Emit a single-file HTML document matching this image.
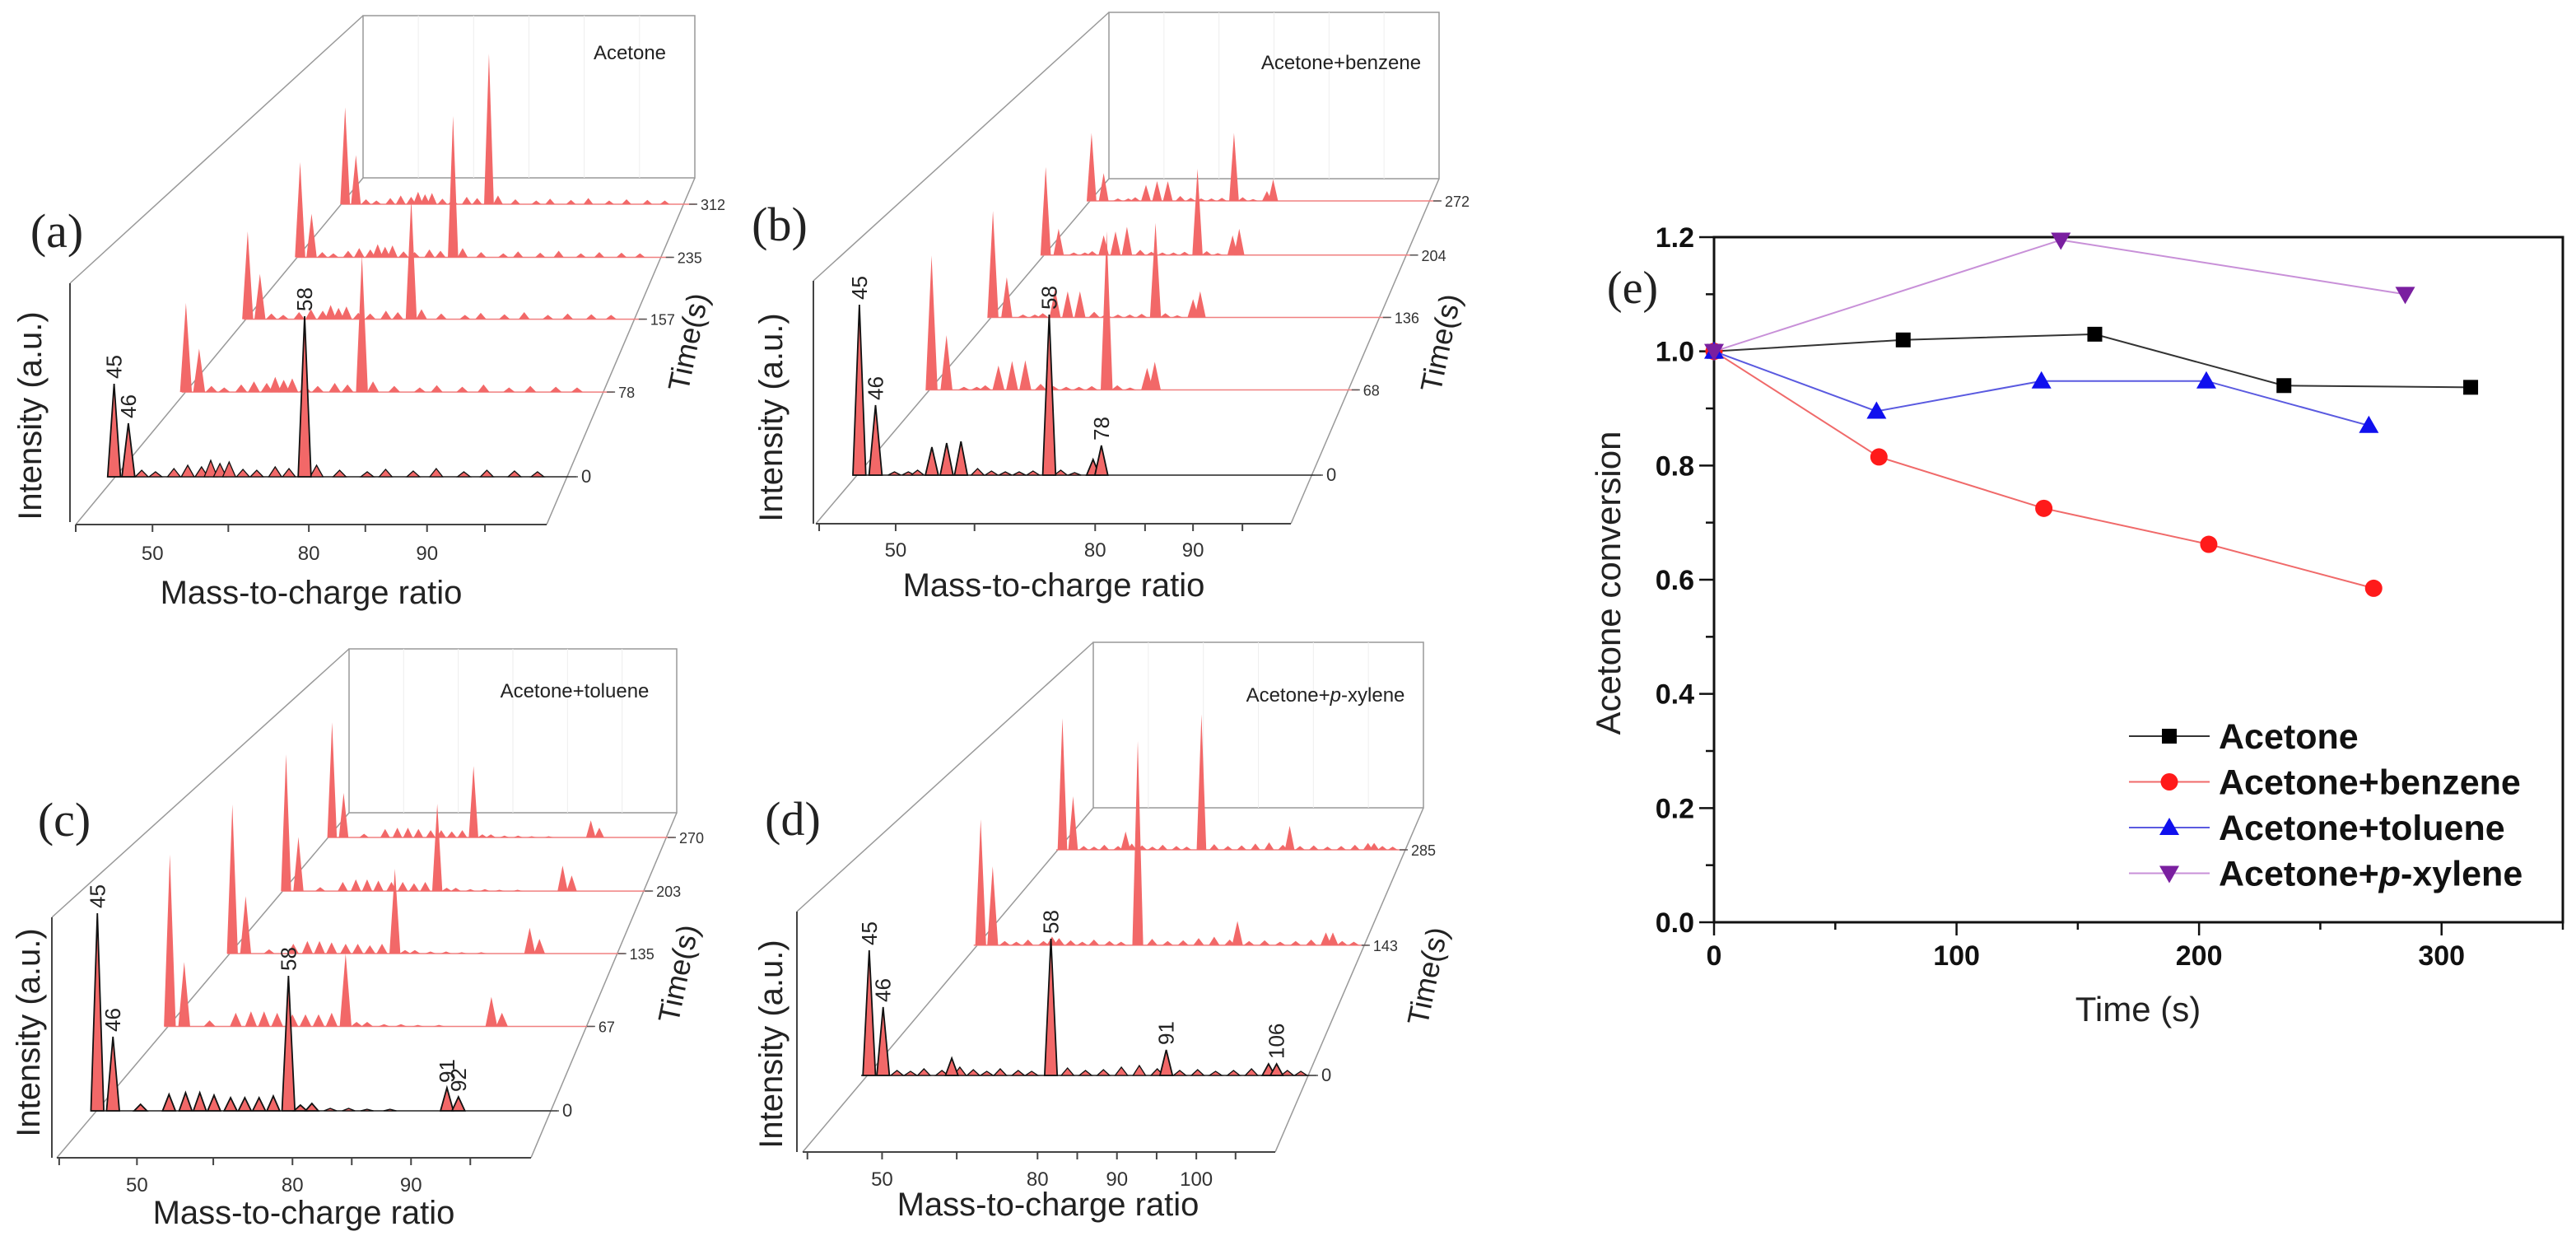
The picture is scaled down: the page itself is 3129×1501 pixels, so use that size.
<!DOCTYPE html>
<html><head><meta charset="utf-8">
<style>
html,body{margin:0;padding:0;background:#fff;}
svg{display:block;font-family:"Liberation Sans",sans-serif;}
</style></head>
<body>
<svg id="fig" width="3129" height="1501" viewBox="0 0 3129 1501" xmlns="http://www.w3.org/2000/svg"></svg>
<script>
// ---------- Panel (a) data ----------
const aTimes = [0, 78, 157, 235, 312];
const aPeakPos = [1.0, 4.1, 42.4];
const aPeakLabels = ['45', '46', '58'];
const aHeights = [[113, 65, 195], [117, 57, 180], [124, 64, 171], [144, 66, 214], [156, 79, 242]];
const aMinorPos = [7, 10, 14, 17, 20, 22, 24, 26, 29, 32, 36, 39, 45, 50, 56, 60, 66, 71, 77, 82, 88, 93];
const aMinorH = [8, 6, 10, 14, 12, 20, 16, 18, 9, 8, 12, 10, 14, 8, 6, 9, 7, 10, 6, 8, 7, 6];
const aTickLabels = ['', '50', '', '80', '', '90', ''];
const aTickPos = [0, 16.3, 32.4, 49.5, 61.5, 74.6, 86.9];

// ---------- Panel (b) data ----------
const bTimes = [0, 68, 136, 204, 272];
const bPeakPos = [1.4, 4.9, 17.1, 20.3, 23.4, 42.5, 52, 53.8];
const bPeakLabels = ['45', '46', '', '', '', '58', '', '78'];
const bHeights = [
  [207, 85, 34, 39, 41, 195, 19, 36],
  [177, 72, 32, 38, 39, 209, 29, 37],
  [151, 57, 40, 37, 37, 134, 26, 37],
  [134, 40, 30, 36, 43, 131, 30, 40],
  [110, 45, 26, 32, 32, 110, 16, 35]];
const bMinorPos = [9, 12, 14, 27, 30, 33, 36, 39, 45, 48];
const bMinorH = [4, 4, 6, 8, 5, 4, 4, 5, 6, 3];
const bTickLabels = ['', '50', '', '80', '', '90', ''];
const bTickPos = [0.7, 16.8, 33.4, 58.8, 69.3, 79.4, 89.8];

// ---------- Panel (c) data ----------
const cTimes = [0, 67, 135, 203, 270];
const cPeakPos = [1.3, 4.7, 10.7, 16.9, 20.5, 23.6, 26.7, 30.3, 33.4, 36.5, 39.6, 42.9, 45.5, 48, 77.4, 79.9];
const cPeakLabels = ['45', '46', '', '', '', '', '', '', '', '', '', '58', '', '', '91', '92'];
const cHeights = [
  [240, 90, 8, 20, 22, 22, 19, 16, 16, 16, 18, 164, 7, 9, 28, 17],
  [227, 85, 8, 18, 20, 20, 18, 16, 16, 16, 18, 96, 6, 6, 39, 18],
  [213, 82, 6, 14, 18, 18, 16, 14, 14, 12, 14, 121, 5, 5, 37, 21],
  [210, 83, 6, 14, 18, 18, 16, 14, 14, 12, 14, 134, 5, 5, 39, 24],
  [189, 73, 6, 14, 16, 16, 14, 12, 12, 10, 12, 117, 5, 5, 28, 16]];
const cMinorPos = [52, 56, 60, 65];
const cMinorH = [3, 3, 2, 2];
const cTickLabels = ['', '50', '', '80', '', '90', ''];
const cTickPos = [0.5, 16.9, 33, 49.7, 62.2, 74.7, 87.2];

// ---------- Panel (d) data ----------
const dTimes = [0, 143, 285];
const dPeakPos = [1.8, 4.9, 20.2, 42.3, 68, 90.8, 92.6];
const dPeakLabels = ['45', '46', '', '58', '91', '', '106'];
const dHeights = [
  [152, 83, 21, 166, 31, 14, 14],
  [177, 111, 12, 287, 34, 18, 18],
  [209, 85, 29, 215, 38, 11, 11]];
const dMinorPos = [8, 11, 14, 18, 22, 25, 28, 31, 35, 38, 46, 50, 54, 58, 62, 66, 71, 75, 79, 83, 87, 95, 98];
const dMinorH = [6, 5, 8, 6, 10, 7, 5, 8, 6, 5, 9, 6, 7, 10, 12, 8, 6, 7, 5, 6, 8, 6, 5];
const dTickLabels = ['', '50', '', '80', '', '90', '', '100', ''];
const dTickPos = [1, 16.8, 32.6, 49.7, 58.1, 66.5, 74.9, 83.3, 91.6];

// ---------- Panel (e) data ----------
const eSeriesNames = ['Acetone', 'Acetone+benzene', 'Acetone+toluene', 'Acetone+p-xylene'];
const eAcetoneT = [0, 78, 157, 235, 312];
const eAcetoneV = [1.0, 1.02, 1.03, 0.94, 0.937];
const eBenzeneT = [0, 68, 136, 204, 272];
const eBenzeneV = [1.0, 0.815, 0.725, 0.662, 0.585];
const eTolueneT = [0, 67, 135, 203, 270];
const eTolueneV = [1.0, 0.895, 0.948, 0.948, 0.87];
const eXyleneT = [0, 143, 285];
const eXyleneV = [1.0, 1.195, 1.1];
const eXTicks = [0, 100, 200, 300];
const eYTicks = [0.0, 0.2, 0.4, 0.6, 0.8, 1.0, 1.2];

const NS = 'http://www.w3.org/2000/svg';
const svg = document.getElementById('fig');
function mk(tag, attrs, parent) {
  const el = document.createElementNS(NS, tag);
  for (const k in attrs) el.setAttribute(k, attrs[k]);
  (parent || svg).appendChild(el);
  return el;
}
const RED = '#f26868';

function persp(f) { return f * 1.354 / (1 + 0.354 * f); }

function drawPanel(id, G, times, pos, labels, heights, minorPos, minorH, tickPos, tickLabels, legendText) {
  const g = mk('g', {});
  
  
  const wall = mk('rect', {x: G.wl, y: G.wt, width: G.wr - G.wl, height: G.wb - G.wt, fill: 'none', stroke: '#999', 'stroke-width': 1.5}, g);
  
  
  for (let i = 1; i < 6; i++) {
    const gx = G.wl + (G.wr - G.wl) * i / 6;
    const gl = mk('line', {x1: gx, y1: G.wt, x2: gx, y2: G.wb, stroke: '#eee', 'stroke-width': 1}, g);
    
    
  }
  const edges = [
    [G.ax, G.at, G.wl, G.wt],
    [G.fbl[0], G.fbl[1], G.wl, G.wb],
    [G.fbr[0], G.fbr[1], G.wr, G.wb]];
  edges.forEach(e => {
    const l = mk('line', {x1: e[0], y1: e[1], x2: e[2], y2: e[3], stroke: '#999', 'stroke-width': 1.5}, g);
    
    
  });
  const yAxis = mk('line', {x1: G.ax, y1: G.at, x2: G.ax, y2: G.ab, stroke: '#444', 'stroke-width': 2}, g);
  
  
  const xAxis = mk('line', {x1: G.fbl[0], y1: G.fbl[1], x2: G.fbr[0], y2: G.fbr[1], stroke: '#444', 'stroke-width': 2}, g);
  
  
  const fx = u => G.fbl[0] + (G.fbr[0] - G.fbl[0]) * u / 100;
  tickPos.forEach((u, i) => {
    const t = mk('line', {x1: fx(u), y1: G.fbl[1], x2: fx(u), y2: G.fbl[1] + 9, stroke: '#444', 'stroke-width': 2}, g);
    
    
    if (tickLabels[i]) {
      const tl = mk('text', {x: fx(u), y: G.tly, 'font-size': 24, fill: '#333', 'text-anchor': 'middle'}, g);
      tl.textContent = tickLabels[i];
      
      
    }
  });
  const tmax = times[times.length - 1];
  const rows = times.map((t, i) => {
    const p = persp(t / tmax);
    const xs = G.s0[0] + (G.sB[0] - G.s0[0]) * p;
    const y = G.s0[1] + (G.sB[1] - G.s0[1]) * p;
    const xe = G.e0 + (G.eB - G.e0) * p;
    return {t, i, xs, y, xe, s: (xe - xs) / (G.e0 - G.s0[0])};
  });
  for (let r = rows.length - 1; r >= 0; r--) {
    const R = rows[r];
    const front = r === 0;
    const X = u => R.xs + (R.xe - R.xs) * u / 100;
    const w = (R.xe - R.xs) * 0.014;
    const base = mk('line', {x1: R.xs, y1: R.y, x2: R.xe + 8, y2: R.y, stroke: front ? '#222' : '#f08080', 'stroke-width': front ? 1.6 : 1.5}, g);
    
    
    minorPos.forEach((u, k) => {
      const h = minorH[k] * R.s;
      const m = mk('path', {d: `M${X(u) - w},${R.y} L${X(u)},${R.y - h} L${X(u) + w},${R.y} Z`, fill: RED, stroke: front ? '#111' : 'none', 'stroke-width': 1.3}, g);
      
      
    });
    pos.forEach((u, k) => {
      const h = heights[r][k] * R.s;
      const pk = mk('path', {d: `M${X(u) - w},${R.y} L${X(u)},${R.y - h} L${X(u) + w},${R.y} Z`, fill: RED, stroke: front ? '#111' : 'none', 'stroke-width': 1.8}, g);
      
      
      if (front && labels[k]) {
        const lx = X(u) + 9, ly = R.y - h - 6;
        const lt = mk('text', {x: lx, y: ly, 'font-size': 26, fill: '#222', transform: `rotate(-90 ${lx} ${ly})`}, g);
        lt.textContent = labels[k];
        
        
      }
    });
    const tt = mk('line', {x1: R.xe, y1: R.y, x2: R.xe + 10, y2: R.y, stroke: '#555', 'stroke-width': 1.5}, g);
    
    
    const tl = mk('text', {x: R.xe + 14, y: R.y + 7, 'font-size': front ? 22 : 18, fill: '#333'}, g);
    tl.textContent = R.t;
    
    
  }
  const letter = mk('text', {x: G.letter[0], y: G.letter[1], 'font-size': 58, 'font-family': '"Liberation Serif",serif', 'text-anchor': 'middle', fill: '#222'}, g);
  letter.textContent = '(' + id + ')';
  
  
  const it = mk('text', {x: G.ilab[0], y: G.ilab[1], 'font-size': 40, 'text-anchor': 'middle', fill: '#222', transform: `rotate(-90 ${G.ilab[0]} ${G.ilab[1]})`}, g);
  it.textContent = 'Intensity (a.u.)';
  
  
  const mt = mk('text', {x: G.mlab[0], y: G.mlab[1], 'font-size': 40, 'text-anchor': 'middle', fill: '#222'}, g);
  mt.textContent = 'Mass-to-charge ratio';
  
  
  const tl2 = mk('text', {x: G.tlab[0], y: G.tlab[1], 'font-size': 36, 'text-anchor': 'middle', fill: '#222', transform: `rotate(-78 ${G.tlab[0]} ${G.tlab[1]})`}, g);
  tl2.textContent = 'Time(s)';
  
  
  const lg = mk('text', {x: G.leg[0], y: G.leg[1], 'font-size': 24, 'text-anchor': 'middle', fill: '#222'}, g);
  
  
  if (legendText.indexOf('p-') >= 0) {
    lg.appendChild(document.createTextNode('Acetone+'));
    const ts = document.createElementNS(NS, 'tspan');
    ts.setAttribute('font-style', 'italic');
    ts.textContent = 'p';
    lg.appendChild(ts);
    lg.appendChild(document.createTextNode('-xylene'));
  } else lg.textContent = legendText;
}

drawPanel('a', {wl: 441, wr: 844, wt: 19, wb: 216, ax: 85, at: 344, ab: 634, fbl: [92, 637], fbr: [664, 637], s0: [133, 579], e0: 692, sB: [415, 248], eB: 837, tly: 680, letter: [69, 300], ilab: [50, 505], mlab: [378, 733], tlab: [848, 418], leg: [765, 72]},
  aTimes, aPeakPos, aPeakLabels, aHeights, aMinorPos, aMinorH, aTickPos, aTickLabels, 'Acetone');
drawPanel('b', {wl: 1347, wr: 1748, wt: 15, wb: 217, ax: 988, at: 341, ab: 636, fbl: [991, 636], fbr: [1568, 636], s0: [1036, 577], e0: 1597, sB: [1320, 244], eB: 1741, tly: 676, letter: [947, 292], ilab: [950, 507], mlab: [1280, 724], tlab: [1762, 419], leg: [1629, 84]},
  bTimes, bPeakPos, bPeakLabels, bHeights, bMinorPos, bMinorH, bTickPos, bTickLabels, 'Acetone+benzene');
drawPanel('c', {wl: 424, wr: 822, wt: 788, wb: 987, ax: 63, at: 1114, ab: 1406, fbl: [69, 1406], fbr: [645, 1406], s0: [111, 1349], e0: 669, sB: [398, 1017], eB: 811, tly: 1447, letter: [78, 1015], ilab: [48, 1254], mlab: [369, 1486], tlab: [836, 1185], leg: [698, 847]},
  cTimes, cPeakPos, cPeakLabels, cHeights, cMinorPos, cMinorH, cTickPos, cTickLabels, 'Acetone+toluene');
drawPanel('d', {wl: 1328, wr: 1729, wt: 780, wb: 981, ax: 968, at: 1107, ab: 1399, fbl: [975, 1399], fbr: [1549, 1399], s0: [1046, 1306], e0: 1591, sB: [1283, 1032], eB: 1700, tly: 1440, letter: [963, 1014], ilab: [950, 1268], mlab: [1273, 1476], tlab: [1746, 1188], leg: [1610, 852]},
  dTimes, dPeakPos, dPeakLabels, dHeights, dMinorPos, dMinorH, dTickPos, dTickLabels, 'Acetone+p-xylene');

// ---------- Panel (e) ----------
(function () {
  const X0 = 2082, X1 = 3113, Y0 = 1120, Y1 = 288;
  const xs = v => X0 + (X1 - X0) * v / 350;
  const ys = v => Y0 - (Y0 - Y1) * v / 1.2;
  const g = mk('g', {});
  
  
  const box = mk('rect', {x: X0, y: Y1, width: X1 - X0, height: Y0 - Y1, fill: 'none', stroke: '#111', 'stroke-width': 3}, g);
  
  
  for (let v = 0; v <= 350; v += 50) {
    const major = eXTicks.indexOf(v) >= 0;
    const t = mk('line', {x1: xs(v), y1: Y0, x2: xs(v), y2: Y0 + (major ? 16 : 9), stroke: '#111', 'stroke-width': 2.5}, g);
    
    
  }
  eXTicks.forEach(v => {
    const t = mk('text', {x: xs(v), y: Y0 + 52, 'font-size': 34, 'font-weight': 'bold', 'text-anchor': 'middle', fill: '#111'}, g);
    t.textContent = v;
    
    
  });
  for (let k = 0; k <= 12; k++) {
    const v = k / 10;
    const major = k % 2 === 0;
    const t = mk('line', {x1: X0, y1: ys(v), x2: X0 - (major ? 18 : 10), y2: ys(v), stroke: '#111', 'stroke-width': 2.5}, g);
    
    
  }
  eYTicks.forEach(v => {
    const t = mk('text', {x: X0 - 24, y: ys(v) + 12, 'font-size': 34, 'font-weight': 'bold', 'text-anchor': 'end', fill: '#111'}, g);
    t.textContent = v.toFixed(1);
    
    
  });
  const yt = mk('text', {x: 1968, y: 708, 'font-size': 42, 'text-anchor': 'middle', fill: '#222', transform: 'rotate(-90 1968 708)'}, g);
  yt.textContent = 'Acetone conversion';
  
  
  const xt = mk('text', {x: 2597, y: 1240, 'font-size': 42, 'text-anchor': 'middle', fill: '#222'}, g);
  xt.textContent = 'Time (s)';
  
  
  const el = mk('text', {x: 1983, y: 368, 'font-size': 56, 'font-family': '"Liberation Serif",serif', 'text-anchor': 'middle', fill: '#222'}, g);
  el.textContent = '(e)';
  
  

  const series = [
    {T: eAcetoneT, V: eAcetoneV, line: '#333', fill: '#000', m: 'square'},
    {T: eBenzeneT, V: eBenzeneV, line: '#f06a6a', fill: '#ff1a1a', m: 'circle'},
    {T: eTolueneT, V: eTolueneV, line: '#5a5ae0', fill: '#1010ee', m: 'tri'},
    {T: eXyleneT, V: eXyleneV, line: '#c890d8', fill: '#7a1fa0', m: 'dtri'}];
  function marker(m, x, y, fill, parent) {
    if (m === 'square') return mk('rect', {x: x - 9, y: y - 9, width: 18, height: 18, fill}, parent);
    if (m === 'circle') return mk('circle', {cx: x, cy: y, r: 10.5, fill}, parent);
    if (m === 'tri') return mk('path', {d: `M${x},${y - 12} L${x + 12},${y + 9} L${x - 12},${y + 9} Z`, fill}, parent);
    return mk('path', {d: `M${x},${y + 12} L${x + 12},${y - 9} L${x - 12},${y - 9} Z`, fill}, parent);
  }
  series.forEach((s, si) => {
    const sg = mk('g', {}, g);
    
    
    const pts = s.T.map((t, i) => xs(t) + ',' + ys(s.V[i])).join(' ');
    const pl = mk('polyline', {points: pts, fill: 'none', stroke: s.line, 'stroke-width': 2}, sg);
    
    
    s.T.forEach((t, i) => {
      const mm = marker(s.m, xs(t), ys(s.V[i]), s.fill, sg);
      
      
    });
    const ly = 894 + si * 55.5;
    const lgg = mk('g', {}, g);
    
    
    mk('line', {x1: 2586, y1: ly, x2: 2684, y2: ly, stroke: s.line, 'stroke-width': 2}, lgg);
    marker(s.m, 2635, ly, s.fill, lgg);
    const lt = mk('text', {x: 2695, y: ly + 15, 'font-size': 43, 'font-weight': 'bold', fill: '#111'}, lgg);
    if (si === 3) {
      lt.appendChild(document.createTextNode('Acetone+'));
      const ts = document.createElementNS(NS, 'tspan');
      ts.setAttribute('font-style', 'italic');
      ts.textContent = 'p';
      lt.appendChild(ts);
      lt.appendChild(document.createTextNode('-xylene'));
    } else lt.textContent = eSeriesNames[si];
  });
})();
</script>
</body></html>
